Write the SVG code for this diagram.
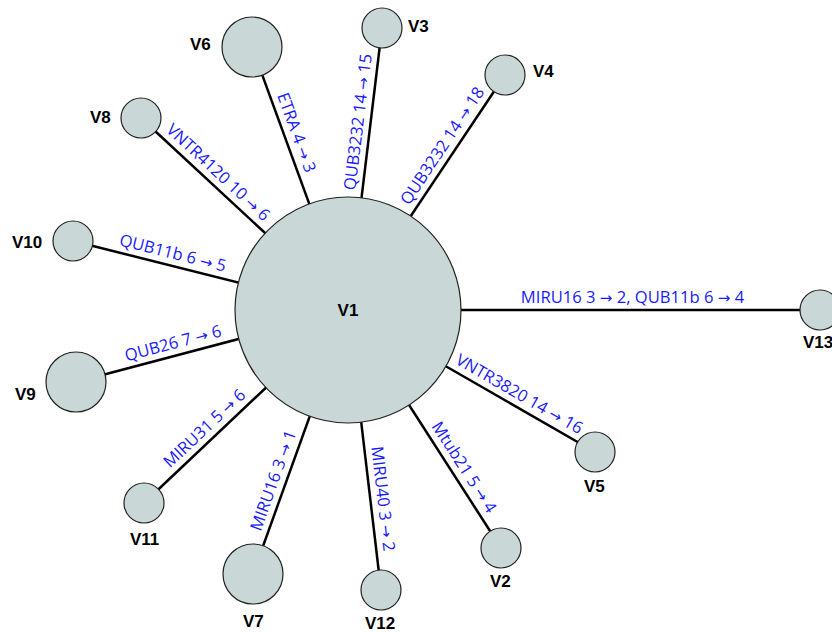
<svg xmlns="http://www.w3.org/2000/svg" width="832" height="632" viewBox="0 0 832 632">
<style>
.edge{stroke:#000;stroke-width:2.5;fill:none}
.node{fill:#c9d7d7;stroke:#222;stroke-width:1.2}
.nl{font-family:"Liberation Sans",Arial,sans-serif;font-weight:bold;font-size:17px;fill:#000}
.el{font-family:"Open Sans","Noto Sans",sans-serif;font-size:16.6px;fill:#1a1aff;text-anchor:middle}
.ar{font-family:"DejaVu Sans",sans-serif;font-size:15px}
</style>
<rect width="832" height="632" fill="#fff"/>
<g id="edges">
<line class="edge" x1="348" y1="310" x2="501" y2="548"/>
<line class="edge" x1="348" y1="310" x2="382" y2="28"/>
<line class="edge" x1="348" y1="310" x2="505" y2="75"/>
<line class="edge" x1="348" y1="310" x2="595" y2="452"/>
<line class="edge" x1="348" y1="310" x2="252" y2="47"/>
<line class="edge" x1="348" y1="310" x2="253" y2="574"/>
<line class="edge" x1="348" y1="310" x2="141" y2="118"/>
<line class="edge" x1="348" y1="310" x2="76" y2="382"/>
<line class="edge" x1="348" y1="310" x2="73" y2="241"/>
<line class="edge" x1="348" y1="310" x2="144" y2="503"/>
<line class="edge" x1="348" y1="310" x2="381" y2="590"/>
<line class="edge" x1="348" y1="310" x2="820" y2="310"/>
<text class="el" transform="translate(284.7,136.9) rotate(70)" y="-7">ETRA 4 <tspan class="ar">→</tspan> 3</text>
<text class="el" transform="translate(370.5,123.6) rotate(-83.1)" y="-7">QUB3232 14 <tspan class="ar">→</tspan> 15</text>
<text class="el" transform="translate(452.9,152.9) rotate(-56.3)" y="-7">QUB3232 14 <tspan class="ar">→</tspan> 18</text>
<text class="el" transform="translate(209.6,181.6) rotate(42.8)" y="-7">VNTR4120 10 <tspan class="ar">→</tspan> 6</text>
<text class="el" transform="translate(169.8,265.3) rotate(14.1)" y="-7">QUB11b 6 <tspan class="ar">→</tspan> 5</text>
<text class="el" transform="translate(176.2,355.5) rotate(-14.8)" y="-7">QUB26 7 <tspan class="ar">→</tspan> 6</text>
<text class="el" transform="translate(213.2,437.5) rotate(-43.4)" y="-7">MIRU31 5 <tspan class="ar">→</tspan> 6</text>
<text class="el" transform="translate(285.1,484.7) rotate(-70.2)" y="-7">MIRU16 3 <tspan class="ar">→</tspan> 1</text>
<text class="el" transform="translate(370.4,500.2) rotate(83.3)" y="-7">MIRU40 3 <tspan class="ar">→</tspan> 2</text>
<text class="el" transform="translate(453.5,474) rotate(57.3)" y="-7">Mtub21 5 <tspan class="ar">→</tspan> 4</text>
<text class="el" transform="translate(513.1,404.9) rotate(29.9)" y="-7">VNTR3820 14 <tspan class="ar">→</tspan> 16</text>
<text class="el" transform="translate(632.5,310)" y="-7">MIRU16 3 <tspan class="ar">→</tspan> 2, QUB11b 6 <tspan class="ar">→</tspan> 4</text>
</g>
<g id="V1"><circle class="node" cx="348" cy="310" r="113"/><text class="nl" x="348" y="316" text-anchor="middle">V1</text></g>
<g id="V2"><circle class="node" cx="501" cy="548" r="20"/><text class="nl" x="490" y="587">V2</text></g>
<g id="V3"><circle class="node" cx="382" cy="28" r="20"/><text class="nl" x="408" y="32">V3</text></g>
<g id="V4"><circle class="node" cx="505" cy="75" r="20"/><text class="nl" x="533" y="77">V4</text></g>
<g id="V5"><circle class="node" cx="595" cy="452" r="20"/><text class="nl" x="584" y="492">V5</text></g>
<g id="V6"><circle class="node" cx="252" cy="47" r="30"/><text class="nl" x="190" y="50">V6</text></g>
<g id="V7"><circle class="node" cx="253" cy="574" r="30"/><text class="nl" x="243" y="627">V7</text></g>
<g id="V8"><circle class="node" cx="141" cy="118" r="20"/><text class="nl" x="90" y="123">V8</text></g>
<g id="V9"><circle class="node" cx="76" cy="382" r="30"/><text class="nl" x="15" y="400">V9</text></g>
<g id="V10"><circle class="node" cx="73" cy="241" r="20"/><text class="nl" x="12" y="248">V10</text></g>
<g id="V11"><circle class="node" cx="144" cy="503" r="20"/><text class="nl" x="130" y="545">V11</text></g>
<g id="V12"><circle class="node" cx="381" cy="590" r="20"/><text class="nl" x="365" y="629">V12</text></g>
<g id="V13"><circle class="node" cx="820" cy="310" r="20"/><text class="nl" x="803" y="348">V13</text></g>
</svg>
